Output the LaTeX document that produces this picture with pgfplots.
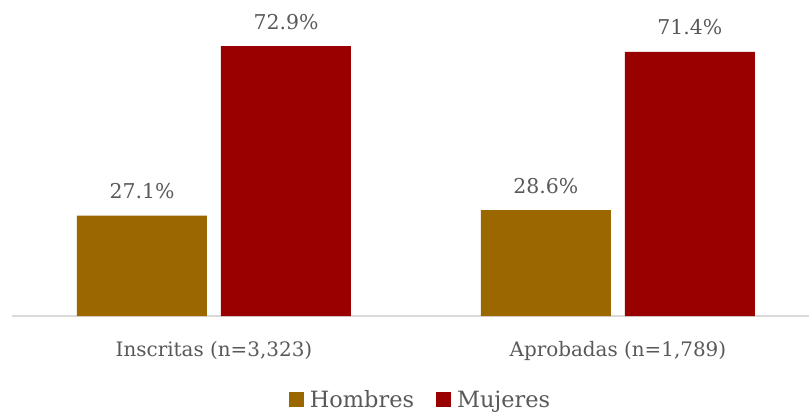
\documentclass[border=0pt]{standalone}
\usepackage{pgfplots}
\pgfplotsset{compat=1.18}
\usepackage{fontspec}
\setmainfont{DejaVu Serif}
\definecolor{hom}{HTML}{9A6700}
\definecolor{muj}{HTML}{990000}
\definecolor{txt}{HTML}{595959}
\definecolor{axl}{HTML}{D9D9D9}
\begin{document}
\begin{tikzpicture}
\begin{axis}[
  scale only axis,
  width=797bp, height=316bp,
  xmin=-0.5, xmax=1.473,
  ymin=0, ymax=85.4,
  /pgf/number format/assume math mode=true,
  axis y line=none,
  axis x line*=bottom,
  x axis line style={draw=axl, line width=1.2bp},
  xtick={0,1},
  xticklabels={Inscritas (n=3{,}323), Aprobadas (n=1{,}789)},
  major tick length=0pt,
  xticklabel style={font=\fontsize{20}{22}\selectfont, text=txt, yshift=-22bp},
  ybar,
  bar width=130bp,
  nodes near coords={\pgfmathprintnumber[fixed,fixed zerofill,precision=1]{\pgfplotspointmeta}\%},
  nodes near coords style={font=\fontsize{20.5}{22}\selectfont, text=txt, yshift=13bp},
  legend style={draw=none, at={(0.5126,-0.265)}, anchor=center, legend columns=2,
    font=\fontsize{22.5}{24}\selectfont, text=txt,
    /tikz/every even column/.append style={column sep=20bp}},
  legend image code/.code={\fill[#1] (0bp,-7bp) rectangle (15bp,8bp); \path (19bp,0bp);},
  clip=false,
]
\addplot[fill=hom, draw=none, bar shift=-72bp] coordinates {(0,27.1) (1,28.6)};
\addplot[fill=muj, draw=none, bar shift=72bp] coordinates {(0,72.9) (1,71.4)};
\legend{Hombres, Mujeres}
\end{axis}
\pgfresetboundingbox
\path ([xshift=-12bp,yshift=-100bp]current axis.south west) rectangle (current axis.north east);
\end{tikzpicture}
\end{document}
